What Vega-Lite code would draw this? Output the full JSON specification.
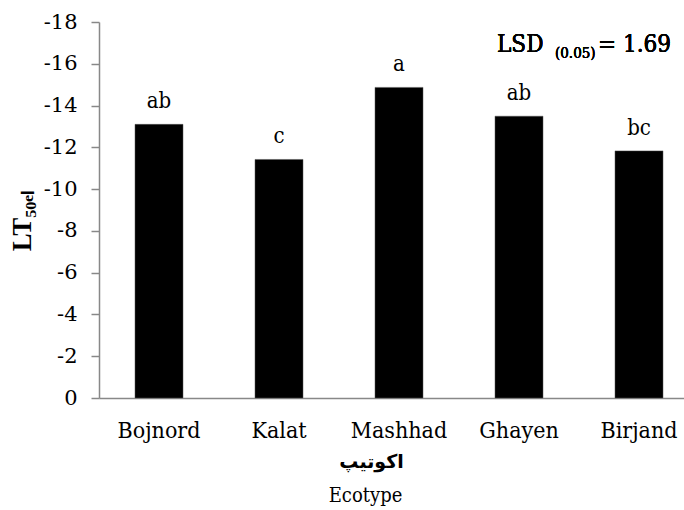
{
  "$schema": "https://vega.github.io/schema/vega-lite/v6.json",
  "autosize": "none",
  "width": 585,
  "height": 376,
  "padding": {"left": 99, "top": 22, "right": 0, "bottom": 112},
  "background": "white",
  "config": {
    "view": {"stroke": null}
  },
  "title": {
    "text": "Ecotype",
    "orient": "bottom",
    "anchor": "middle",
    "font": "DejaVu Serif Condensed",
    "fontSize": 20,
    "fontWeight": "normal",
    "color": "black",
    "dx": -26,
    "offset": 15
  },
  "data": {
    "values": [
      {"ecotype": "Bojnord", "lt50": -13.1, "group": "ab"},
      {"ecotype": "Kalat", "lt50": -11.42, "group": "c"},
      {"ecotype": "Mashhad", "lt50": -14.87, "group": "a"},
      {"ecotype": "Ghayen", "lt50": -13.49, "group": "ab"},
      {"ecotype": "Birjand", "lt50": -11.83, "group": "bc"}
    ]
  },
  "encoding": {
    "x": {
      "field": "ecotype",
      "type": "nominal",
      "sort": null,
      "scale": {"paddingInner": 0.6, "paddingOuter": 0.2375, "align": 0.6316},
      "axis": {
        "title": "اکوتیپ",
        "titleFont": "DejaVu Sans",
        "titleFontWeight": "bold",
        "titleFontSize": 19,
        "titleColor": "black",
        "titleX": 272,
        "titlePadding": 10,
        "labelAngle": 0,
        "labelFont": "DejaVu Serif Condensed",
        "labelFontSize": 23,
        "labelColor": "black",
        "labelPadding": 21,
        "ticks": false,
        "domainColor": "#888888",
        "domainWidth": 1.5
      }
    },
    "y": {
      "field": "lt50",
      "type": "quantitative",
      "scale": {"domain": [0, -18], "nice": false},
      "axis": {
        "title": "LT₅₀ₑₗ",
        "titleFont": "Liberation Serif",
        "titleFontWeight": "bold",
        "titleFontSize": 27,
        "titleColor": "black",
        "titleAngle": 270,
        "titleX": -77,
        "titleY": 198,
        "titleAlign": "center",
        "titleBaseline": "middle",
        "values": [0, -2, -4, -6, -8, -10, -12, -14, -16, -18],
        "labelExpr": "'' + datum.value",
        "labelFont": "DejaVu Serif",
        "labelFontSize": 21,
        "labelColor": "black",
        "labelPadding": 14,
        "tickSize": 8,
        "tickColor": "#888888",
        "tickWidth": 1.5,
        "domainColor": "#888888",
        "domainWidth": 1.5,
        "grid": false
      }
    }
  },
  "layer": [
    {
      "mark": {"type": "bar", "color": "black", "stroke": "#555555", "strokeWidth": 0.5}
    },
    {
      "mark": {"type": "text", "font": "DejaVu Serif Condensed", "fontSize": 22, "baseline": "alphabetic", "dy": -16, "color": "black"},
      "encoding": {"text": {"field": "group"}}
    },
    {
      "mark": {"type": "text", "font": "DejaVu Serif Condensed", "fontSize": 24, "baseline": "alphabetic", "align": "left", "dx": -142, "dy": -1, "color": "black"},
      "encoding": {
        "x": {"datum": "Birjand"},
        "y": {"datum": -16.5},
        "text": {"value": "LSD"}
      }
    },
    {
      "mark": {"type": "text", "font": "DejaVu Serif Condensed", "fontSize": 15, "baseline": "alphabetic", "align": "left", "dx": -84, "dy": 5, "color": "black"},
      "encoding": {
        "x": {"datum": "Birjand"},
        "y": {"datum": -16.5},
        "text": {"value": "(0.05)"}
      }
    },
    {
      "mark": {"type": "text", "font": "DejaVu Serif Condensed", "fontSize": 24, "baseline": "alphabetic", "align": "left", "dx": -41, "dy": -1, "color": "black"},
      "encoding": {
        "x": {"datum": "Birjand"},
        "y": {"datum": -16.5},
        "text": {"value": "= 1.69"}
      }
    }
  ]
}
